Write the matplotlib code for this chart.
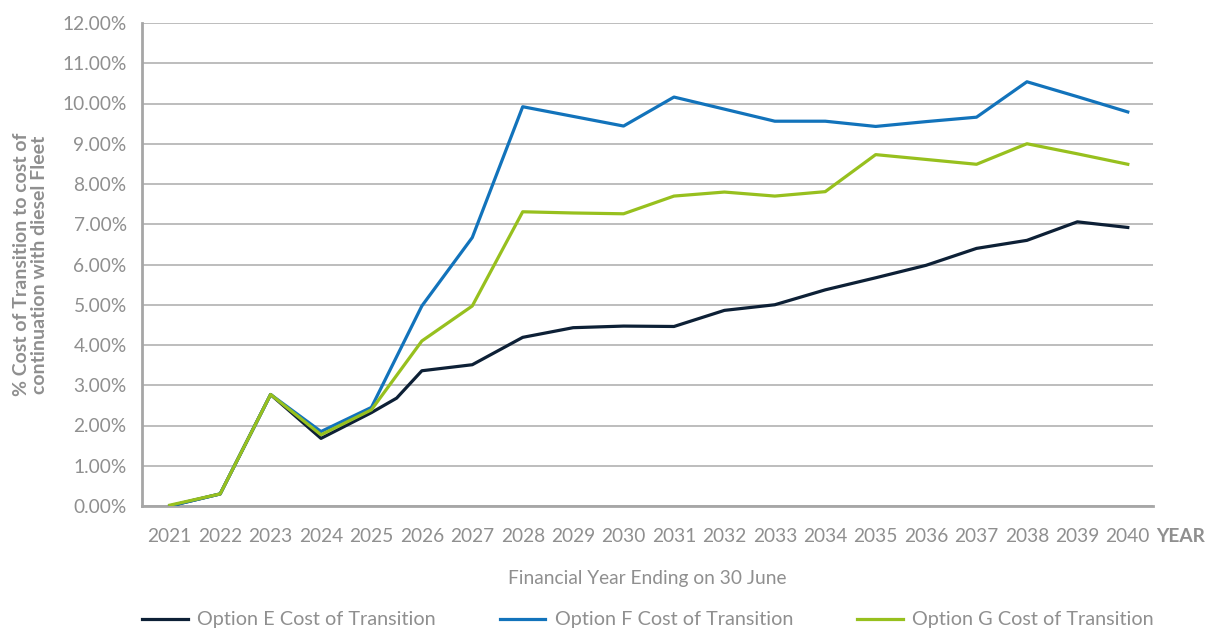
import numpy as np
import matplotlib.pyplot as plt

plt.rcParams['font.family'] = ['Lato', 'DejaVu Sans']

years = list(range(2021, 2041))
year_labels = [str(y) for y in years]

# Option E has an extra vertex mid-2025 in the source chart
years_e = [2021, 2022, 2023, 2024, 2025, 2025.5, 2026, 2027, 2028, 2029, 2030,
           2031, 2032, 2033, 2034, 2035, 2036, 2037, 2038, 2039, 2040]
option_e = [0.00, 0.30, 2.77, 1.68, 2.32, 2.68, 3.36, 3.51, 4.19, 4.43, 4.47,
            4.46, 4.86, 5.00, 5.37, 5.67, 5.98, 6.40, 6.60, 7.06, 6.92]
option_f = [0.00, 0.30, 2.77, 1.85, 2.45, 4.97, 6.67, 9.92, 9.68, 9.44,
            10.16, 9.86, 9.56, 9.56, 9.43, 9.55, 9.66, 10.54, 10.17, 9.79]
option_g = [0.02, 0.30, 2.77, 1.77, 2.39, 4.10, 4.97, 7.31, 7.28, 7.26,
            7.70, 7.80, 7.70, 7.81, 8.73, 8.61, 8.49, 9.00, 8.75, 8.49]

labels = ['Option E Cost of Transition', 'Option F Cost of Transition',
          'Option G Cost of Transition']
colors = ['#0d2036', '#1273bb', '#97c01e']

grey = '#8f8f8f'

fig = plt.figure(figsize=(12.13, 6.33), dpi=100)
ax = fig.add_axes([142/1213, 1 - 506/633, (1153-142)/1213, (506-23)/633])

ax.plot(years_e, option_e, color=colors[0], lw=2.3, label=labels[0], zorder=3)
ax.plot(years, option_f, color=colors[1], lw=2.3, label=labels[1], zorder=3)
ax.plot(years, option_g, color=colors[2], lw=2.3, label=labels[2], zorder=3)

ax.set_xlim(2020.45, 2040.5)
ax.set_ylim(0, 12)
ax.set_yticks(np.arange(0, 13, 1))
ax.set_yticklabels(['{:.2f}%'.format(v) for v in np.arange(0, 13, 1)])
ax.set_xticks(years)
ax.set_xticklabels(year_labels)

ax.grid(axis='y', color='#bdbdbd', lw=1.4, zorder=0)
ax.set_axisbelow(True)
for side in ['top', 'right']:
    ax.spines[side].set_visible(False)
for side in ['left', 'bottom']:
    ax.spines[side].set_color('#a6a6a6')
    ax.spines[side].set_linewidth(2)

ax.tick_params(axis='both', length=0, colors=grey, labelsize=13.8)
ax.tick_params(axis='x', pad=16)
ax.tick_params(axis='y', pad=11)

ax.text(2041.05, -0.76, 'YEAR', color=grey, fontsize=13.8, fontweight='bold',
        ha='center', va='center', clip_on=False)

ax.set_xlabel('Financial Year Ending on 30 June', color=grey, fontsize=13.8,
              labelpad=18)
ax.set_ylabel('% Cost of Transition to cost of\ncontinuation with diesel Fleet',
              color=grey, fontsize=14, fontweight='bold', labelpad=10,
              linespacing=1.1)

fig.legend(loc='center left', ncol=3, mode='expand', frameon=False,
           bbox_to_anchor=(124/1213, 1 - 620/633, (1172-124)/1213, 0),
           fontsize=14.3, handlelength=2.3, handletextpad=0.5,
           labelcolor=grey)

fig.savefig('out.png', dpi=100)
